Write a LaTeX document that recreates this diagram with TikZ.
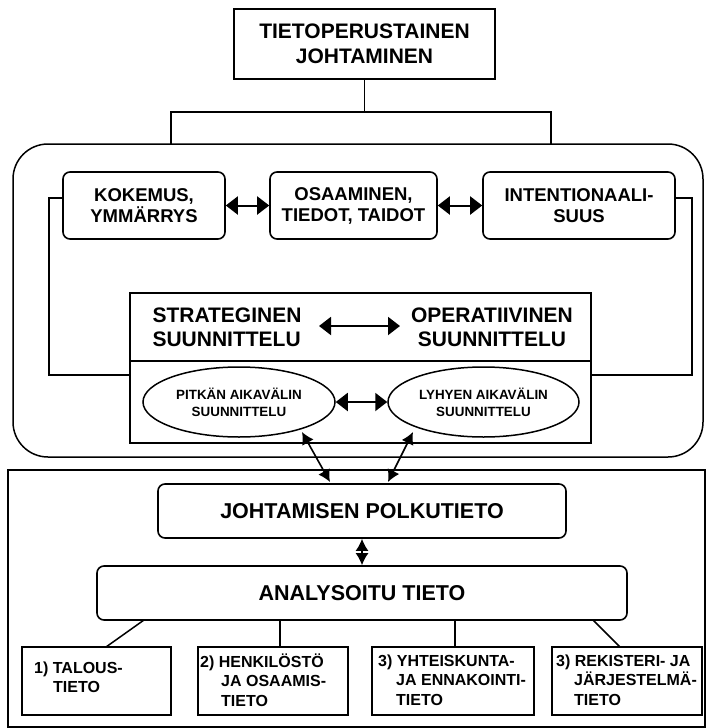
\documentclass[tikz,border=0pt]{standalone}
\usepackage{fontspec}
\setmainfont{Liberation Sans}
\usetikzlibrary{arrows.meta,shapes.geometric}
\begin{document}
\begin{tikzpicture}[x=1pt,y=-1pt,
  ln/.style={line width=1.5pt,black},
  sqbox/.style={draw,line width=1.6pt,inner sep=0pt,align=center},
  rbox/.style={draw,line width=1.6pt,rounded corners=7pt,inner sep=0pt,align=center},
  ell/.style={draw,ellipse,line width=1.5pt,inner sep=0pt,align=center},
  dbl/.style={line width=2pt,{Triangle[length=12pt,width=18pt]}-{Triangle[length=12pt,width=18pt]}},
  dbls/.style={line width=1.6pt,{Latex[length=12pt,width=13pt]}-{Latex[length=12pt,width=13pt]}},
  ftop/.style={font=\fontsize{21}{25}\selectfont\bfseries},
  fmid/.style={font=\fontsize{18.5}{21}\selectfont\bfseries},
  fstr/.style={font=\fontsize{21}{24}\selectfont\bfseries},
  fell/.style={font=\fontsize{13.4}{17}\selectfont\bfseries},
  fbig/.style={font=\fontsize{21.5}{24}\selectfont\bfseries},
  fbot/.style={font=\fontsize{16}{19.5}\selectfont\bfseries},
]
\useasboundingbox (0,0) rectangle (707,728);
\fill[white] (0,0) rectangle (707,728);

% top box
\node[sqbox,ftop,minimum width=261pt,minimum height=70pt] (top) at (364.5,44) {TIETOPERUSTAINEN\\JOHTAMINEN};

% big rounded container
\draw[ln,rounded corners=35pt] (13,144) rectangle (703,457);
\coordinate (tj) at (364.5,112);
\coordinate (tl) at (171,112);
\coordinate (tr) at (551,112);
\coordinate (tlb) at (171,144);
\coordinate (trb) at (551,144);
\draw[ln] (top.south) -- (tj);
\draw[ln] (tlb) -- (tl) -- (tr) -- (trb);

% three boxes
\node[rbox,fmid,minimum width=162pt,minimum height=67pt] (k1) at (144,205.5) {KOKEMUS,\\YMMÄRRYS};
\node[rbox,fmid,minimum width=167pt,minimum height=67pt] (k2) at (353.5,205.5) {OSAAMINEN,\\TIEDOT, TAIDOT};
\node[rbox,fmid,minimum width=192pt,minimum height=67pt] (k3) at (579,205.5) {INTENTIONAALI-\\SUUS};
\draw[dbl] (k1.east) -- (k2.west);
\draw[dbl] (k2.east) -- (k3.west);

% strategic box
\node[sqbox,minimum width=461pt,minimum height=68pt] (sb) at (360.5,327) {};
\node[sqbox,minimum width=461pt,minimum height=82pt] (lb) at (360.5,402) {};
\node[fstr,align=left,anchor=west] (st) at (149,327) {STRATEGINEN\\SUUNNITTELU};
\node[fstr,align=center] (op) at (492,327) {OPERATIIVINEN\\SUUNNITTELU};
\coordinate (sa) at (319,326);
\coordinate (sbb) at (400,326);
\draw[dbl] (sa) -- (sbb);

% side connection lines
\coordinate (l1) at (49,198);
\coordinate (l2) at (49,375);
\coordinate (l3) at (130,375);
\coordinate (r1) at (692,198);
\coordinate (r2) at (692,375);
\coordinate (r3) at (591,375);
\draw[ln] (k1.west |- l1) -- (l1) -- (l2) -- (l3);
\draw[ln] (k3.east |- r1) -- (r1) -- (r2) -- (r3);

% ellipses
\node[ell,fell,minimum width=192pt,minimum height=70pt] (e1) at (239,402) {PITKÄN AIKAVÄLIN\\SUUNNITTELU};
\node[ell,fell,minimum width=191pt,minimum height=70pt] (e2) at (483.5,402) {LYHYEN AIKAVÄLIN\\SUUNNITTELU};
\draw[dbl] (e1.east) -- (e2.west);

% bottom container
\draw[ln] (8,470) rectangle (705,727);

\node[rbox,fbig,minimum width=408pt,minimum height=54pt] (jp) at (362,511) {JOHTAMISEN POLKUTIETO};
\node[rbox,fbig,minimum width=530pt,minimum height=54pt] (an) at (362,593) {ANALYSOITU TIETO};

\coordinate (d1a) at (302,432);
\coordinate (d1b) at (330,482);
\coordinate (d2a) at (413,432);
\coordinate (d2b) at (388,482);
\draw[dbls] (d1a) -- (d1b);
\draw[dbls] (d2a) -- (d2b);
\draw[dbls] (jp.south) -- (an.north);

% bottom boxes
\node[sqbox,minimum width=149pt,minimum height=68pt] (b1) at (96.5,681) {};
\node[sqbox,minimum width=150pt,minimum height=68pt] (b2) at (273,681) {};
\node[sqbox,minimum width=162pt,minimum height=68pt] (b3) at (453,681) {};
\node[sqbox,minimum width=150pt,minimum height=68pt] (b4) at (627,681) {};
\node[fbot,align=left,anchor=west,inner sep=0pt] (t1) at (34,677.5) {1) TALOUS-\\\hspace*{19pt}TIETO};
\node[fbot,align=left,anchor=west,inner sep=0pt] (t2) at (200,680) {2) HENKILÖSTÖ\\\hspace*{21pt}JA OSAAMIS-\\\hspace*{21pt}TIETO};
\node[fbot,align=left,anchor=west,inner sep=0pt] (t3) at (378,680) {3) YHTEISKUNTA-\\\hspace*{18pt}JA ENNAKOINTI-\\\hspace*{18pt}TIETO};
\node[fbot,align=left,anchor=west,inner sep=0pt] (t4) at (556,680) {3) REKISTERI- JA\\\hspace*{18pt}JÄRJESTELMÄ-\\\hspace*{18pt}TIETO};

\coordinate (c1) at (144,620);
\coordinate (c2) at (280,620);
\coordinate (c3) at (455,620);
\coordinate (c4) at (593,620);
\draw[ln] (c1) -- (106,647);
\draw[ln] (c2) -- (b2.north -| c2);
\draw[ln] (c3) -- (b3.north -| c3);
\draw[ln] (c4) -- (620,647);
\end{tikzpicture}
\end{document}
